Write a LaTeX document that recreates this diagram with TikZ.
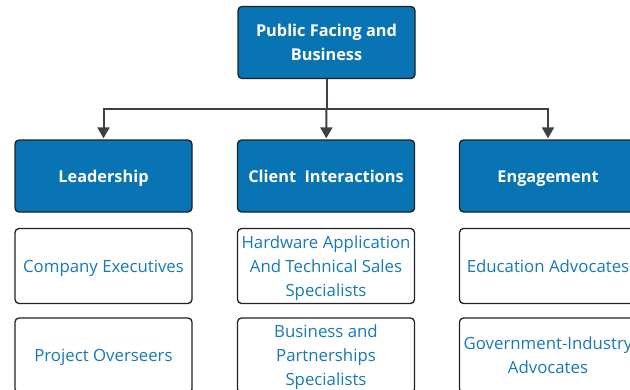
\documentclass[tikz,border=0pt]{standalone}
\usepackage{fontspec}
\setmainfont{Open Sans}
\usetikzlibrary{arrows.meta}

\definecolor{boxblue}{HTML}{0874B3}
\definecolor{textblue}{HTML}{1679B8}
\definecolor{linegray}{HTML}{3C4148}
\definecolor{edgegray}{HTML}{1E2226}

\begin{document}
\begin{tikzpicture}[x=1pt,y=-1pt,
	head/.style={draw=edgegray,line width=1.3pt,rounded corners=4pt,fill=boxblue,
		text=white,font=\fontsize{16.3}{24}\selectfont\bfseries,align=center,
		minimum width=177pt,minimum height=72pt,inner sep=0pt},
	oneline/.style={text height=12.5pt,text depth=0pt},
	threeline/.style={text depth=-4pt},
	role/.style={draw=edgegray,line width=1.3pt,rounded corners=4pt,fill=white,
		text=textblue,font=\fontsize{16.8}{24}\selectfont,align=center,
		minimum width=177pt,minimum height=75pt,inner sep=0pt,text depth=0pt},
	link/.style={draw=linegray,line width=2pt},
	tip/.style={-{Triangle[length=11pt,width=12pt]},shorten >=1pt}]
	% frame
	\useasboundingbox (0,0) rectangle (630,389);
	\clip (0,0) rectangle (630,389);

	% top
	\node[head] (top) at (326.5,42.5) {Public Facing and\\Business};

	% groups
	\node[head,oneline] (lead) at (103.5,176) {Leadership};
	\node[head,oneline] (client) at (326,176) {Client\ \ Interactions};
	\node[head,oneline] (engage) at (548,176) {Engagement};

	% roles
	\node[role,oneline] (exec) at (103.5,266) {Company Executives};
	\node[role,oneline] (over) at (103.5,355.5) {Project Overseers};
	\node[role,threeline] (hard) at (326,266) {Hardware Application\\And Technical Sales\\Specialists};
	\node[role,threeline] (part) at (326,355.5) {Business and\\Partnerships\\Specialists};
	\node[role,oneline] (edu) at (548,266) {Education Advocates};
	\node[role] (gov) at (548,355.5) {Government-Industry\\Advocates};

	% connectors
	\coordinate (split) at (326.5,109);
	\draw[link] (top) -- (split);
	\draw[link,tip] (split) -| (lead);
	\draw[link,tip] (split) -- (client);
	\draw[link,tip] (split) -| (engage);

\end{tikzpicture}
\end{document}
